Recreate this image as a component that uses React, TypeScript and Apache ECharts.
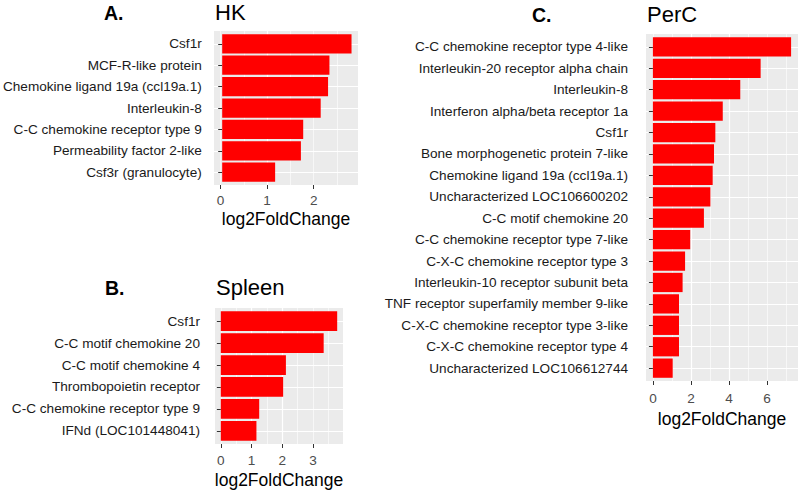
import React, { useEffect, useRef } from "react";
import * as echarts from "echarts";

// ---------- data ----------
const hkGenes = [
  "Csf1r",
  "MCF-R-like protein",
  "Chemokine ligand 19a (ccl19a.1)",
  "Interleukin-8",
  "C-C chemokine receptor type 9",
  "Permeability factor 2-like",
  "Csf3r (granulocyte)",
];
const hkValues = [2.81, 2.33, 2.3, 2.14, 1.76, 1.71, 1.15];
const hkTicks = [0, 1, 2];

const spleenGenes = [
  "Csf1r",
  "C-C motif chemokine 20",
  "C-C motif chemokine 4",
  "Thrombopoietin receptor",
  "C-C chemokine receptor type 9",
  "IFNd (LOC101448041)",
];
const spleenValues = [3.79, 3.35, 2.12, 2.03, 1.25, 1.16];
const spleenTicks = [0, 1, 2, 3];

const percGenes = [
  "C-C chemokine receptor type 4-like",
  "Interleukin-20 receptor alpha chain",
  "Interleukin-8",
  "Interferon alpha/beta receptor 1a",
  "Csf1r",
  "Bone morphogenetic protein 7-like",
  "Chemokine ligand 19a (ccl19a.1)",
  "Uncharacterized LOC106600202",
  "C-C motif chemokine 20",
  "C-C chemokine receptor type 7-like",
  "C-X-C chemokine receptor type 3",
  "Interleukin-10 receptor subunit beta",
  "TNF receptor superfamily member 9-like",
  "C-X-C chemokine receptor type 3-like",
  "C-X-C chemokine receptor type 4",
  "Uncharacterized LOC106612744",
];
const percValues = [7.26, 5.66, 4.59, 3.67, 3.28, 3.21, 3.14, 3.02, 2.68, 1.96, 1.69, 1.56, 1.37, 1.37, 1.37, 1.04];
const percTicks = [0, 2, 4, 6];

const axisTitle = "log2FoldChange";

// ---------- layout ----------
const FONT = '"Liberation Sans", Arial, Helvetica, sans-serif';
const PANEL_BG = "#EBEBEB";
const BAR = "#FF0000";

const panels = [
  { letter: "A.", name: "HK", genes: hkGenes, values: hkValues, ticks: hkTicks,
    l: 214, t: 31, r: 358, b: 185, yLabelMargin: 14, xLabelMargin: 8, nameGap: 25, letterX: 104, nameX: 215, headY: 13 },
  { letter: "B.", name: "Spleen", genes: spleenGenes, values: spleenValues, ticks: spleenTicks,
    l: 215, t: 308, r: 343, b: 444, yLabelMargin: 15, xLabelMargin: 9, nameGap: 27, letterX: 105, nameX: 216, headY: 288 },
  { letter: "C.", name: "PerC", genes: percGenes, values: percValues, ticks: percTicks,
    l: 646, t: 34, r: 798, b: 381, yLabelMargin: 18, xLabelMargin: 10, nameGap: 27, letterX: 532, nameX: 647, headY: 15 },
];

function buildOption() {
  const grid: any[] = [];
  const xAxis: any[] = [];
  const yAxis: any[] = [];
  const series: any[] = [];
  const graphic: any[] = [];

  panels.forEach((p, i) => {
    const n = p.genes.length;
    const M = Math.max(...p.values);
    const xmin = -0.05 * M;
    const xmax = 1.05 * M;
    const step = p.ticks[1] - p.ticks[0];
    const h = p.b - p.t;
    const u = h / (n + 0.2);

    grid.push({
      left: p.l, top: p.t, width: p.r - p.l, height: h,
      show: true, backgroundColor: PANEL_BG, borderWidth: 0, containLabel: false,
    });
    grid.push({
      left: p.l, top: p.t + 0.1 * u, width: p.r - p.l, height: n * u,
      show: false, containLabel: false,
    });
    const gBg = 2 * i;
    const gBar = 2 * i + 1;

    // minor vertical grid lines
    xAxis.push({
      type: "value", gridIndex: gBg, min: xmin, max: xmax,
      minInterval: step / 2, maxInterval: step / 2,
      axisLine: { show: false }, axisTick: { show: false }, axisLabel: { show: false },
      splitLine: { show: true, showMinLine: false, showMaxLine: false, lineStyle: { color: "#FFFFFF", width: 0.6 } },
    });
    // major vertical grid lines + ticks + labels
    xAxis.push({
      type: "value", gridIndex: gBg, min: xmin, max: xmax, position: "bottom",
      minInterval: step, maxInterval: step,
      name: axisTitle, nameLocation: "middle", nameGap: p.nameGap,
      nameTextStyle: { fontFamily: FONT, fontSize: 17.5, color: "#000000" },
      axisLine: { show: false },
      axisTick: { show: true, length: 4, customValues: p.ticks, lineStyle: { color: "#333333", width: 1 } },
      axisLabel: {
        show: true, customValues: p.ticks, margin: p.xLabelMargin,
        fontFamily: FONT, fontSize: 13.6, color: "#4D4D4D",
        formatter: (v: number) => String(v),
      },
      splitLine: { show: true, showMinLine: false, showMaxLine: false, lineStyle: { color: "#FFFFFF", width: 1.2 } },
    });
    // value axis for bars (hidden)
    xAxis.push({
      type: "value", gridIndex: gBar, min: xmin, max: xmax, show: false,
      splitLine: { show: false },
    });

    // horizontal grid lines at category centres
    yAxis.push({
      type: "value", gridIndex: gBg, inverse: true, min: -0.6, max: n - 1 + 0.6,
      minInterval: 1, maxInterval: 1,
      axisLine: { show: false }, axisTick: { show: false }, axisLabel: { show: false },
      splitLine: { show: true, showMinLine: false, showMaxLine: false, lineStyle: { color: "#FFFFFF", width: 1.2 } },
    });
    // category axis for bars
    yAxis.push({
      type: "category", gridIndex: gBar, data: p.genes, inverse: true, boundaryGap: true,
      axisLine: { show: false },
      axisTick: { show: true, alignWithLabel: true, length: 4, lineStyle: { color: "#333333", width: 1 } },
      axisLabel: { show: true, interval: 0, margin: p.yLabelMargin, fontFamily: FONT, fontSize: 13.6, color: "#1A1A1A" },
      splitLine: { show: false },
    });

    series.push({
      type: "bar", name: p.name, xAxisIndex: 3 * i + 2, yAxisIndex: gBar,
      data: p.values, barWidth: "90%", itemStyle: { color: BAR }, silent: true,
    });

    graphic.push({
      type: "text", x: p.letterX, y: p.headY,
      style: { text: p.letter, fontFamily: FONT, fontSize: 19.5, fontWeight: "bold", fill: "#000000", verticalAlign: "middle", align: "left" },
    });
    graphic.push({
      type: "text", x: p.nameX, y: p.headY - 1,
      style: { text: p.name, fontFamily: FONT, fontSize: 22, fill: "#000000", verticalAlign: "middle", align: "left" },
    });
  });

  return {
    animation: false,
    backgroundColor: "#FFFFFF",
    textStyle: { fontFamily: FONT },
    grid, xAxis, yAxis, series, graphic,
  };
}

export default function App() {
  const ref = useRef<HTMLDivElement>(null);
  useEffect(() => {
    if (!ref.current) return;
    const chart = echarts.init(ref.current, null, { renderer: "svg" });
    chart.setOption(buildOption() as any);
    return () => chart.dispose();
  }, []);
  return (
    <div
      ref={ref}
      style={{ position: "fixed", left: 0, top: 0, width: 798, height: 495, background: "#fff" }}
    />
  );
}
